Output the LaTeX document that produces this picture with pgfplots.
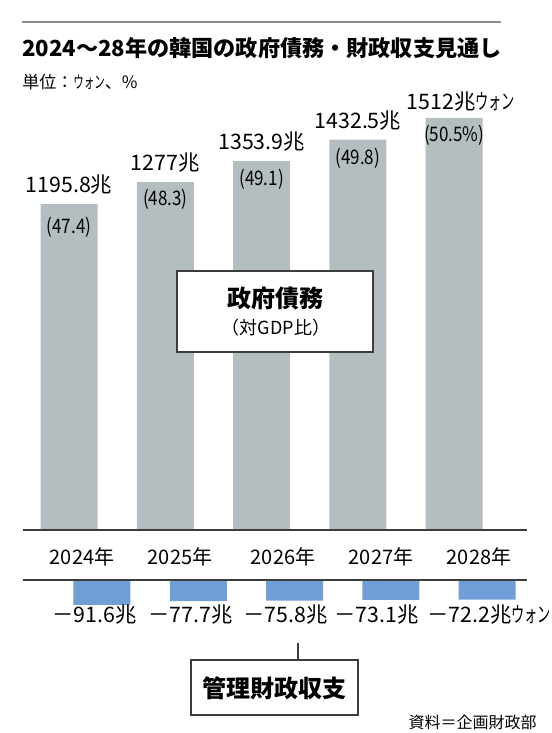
\documentclass[border=0pt]{standalone}
\usepackage{pgfplots}
\pgfplotsset{compat=1.18}
\usepackage{fontspec}
\setmainfont{Noto Sans CJK JP}
\newfontfamily\cond{Noto Sans CJK JP}[FakeStretch=0.85]
\newfontfamily\nkana{Noto Sans CJK JP}[FakeStretch=0.62]
\definecolor{barg}{RGB}{180,189,191}
\definecolor{barb}{RGB}{112,158,214}
\definecolor{linec}{RGB}{60,60,60}
\definecolor{topl}{RGB}{140,140,140}
\newcommand{\fs}[1]{\fontsize{#1}{#1}\selectfont}
\newcommand{\won}{{\nkana ウォン}}
\pgfplotstableread{
x y
0 1195.8
1 1277
2 1353.9
3 1432.5
4 1512
}\debt
\pgfplotstableread{
x y
0 -91.6
1 -77.7
2 -75.8
3 -73.1
4 -72.2
}\bal
\begin{document}
\begin{tikzpicture}
\begin{scope}[x=0.75pt,y=0.75pt]
\path (0,0) rectangle (550,733);
% title
\draw[topl, line width=1.5pt] (22,710.5) -- (501,710.5);
\node[anchor=west, inner sep=0pt] at (22,685) {\fs{16.6pt}\bfseries 2024～28年の韓国の政府債務・財政収支見通し};
\node[anchor=west, inner sep=0pt] at (22,651) {\fs{12.75pt}単位：\won、\%};
\end{scope}
% government debt
\begin{axis}[at={(17.25pt,152.25pt)}, anchor=south west, scale only axis,
  width=378pt, height=309pt, xmin=-0.478, xmax=4.756, ymin=0, ymax=1512,
  hide axis, clip=false, ybar, bar width=42.75pt]
\addplot[fill=barg, draw=none] table[x=x,y=y] {\debt};
\draw[linec, line width=1.1pt] (rel axis cs:0,0) -- (rel axis cs:1,0);
\node[anchor=south, inner sep=0pt] at (axis cs:0,1195.8) [yshift=7pt] {\fs{16pt}1195.8兆};
\node[anchor=south, inner sep=0pt] at (axis cs:1,1277) [yshift=7pt] {\fs{16pt}1277兆};
\node[anchor=south, inner sep=0pt] at (axis cs:2,1353.9) [yshift=7pt] {\fs{16pt}1353.9兆};
\node[anchor=south, inner sep=0pt] at (axis cs:3,1432.5) [yshift=7pt] {\fs{16pt}1432.5兆};
\node[anchor=south, inner sep=0pt] at (axis cs:4,1512) [yshift=5pt, xshift=5pt] {\fs{16pt}1512兆\won};
\node at (axis cs:0,1195.8) [yshift=-17pt] {\cond\fs{15pt}(47.4)};
\node at (axis cs:1,1277) [yshift=-13pt] {\cond\fs{15pt}(48.3)};
\node at (axis cs:2,1353.9) [yshift=-14pt] {\cond\fs{15pt}(49.1)};
\node at (axis cs:3,1432.5) [yshift=-14pt] {\cond\fs{15pt}(49.8)};
\node at (axis cs:4,1512) [yshift=-13pt] {\cond\fs{15pt}(50.5\%)};
\end{axis}
% balance
\begin{axis}[at={(17.25pt,114.75pt)}, anchor=north west, scale only axis,
  width=378pt, height=20.44pt, xmin=-0.820, xmax=4.414, ymin=-100, ymax=0,
  hide axis, clip=false, ybar, bar width=42.75pt]
\addplot[fill=barb, draw=none] table[x=x,y=y] {\bal};
\draw[linec, line width=1.1pt] (rel axis cs:0,1) -- (rel axis cs:1,1);
\end{axis}
\begin{scope}[x=0.75pt,y=0.75pt]
% years
\node at (82,176) {\fs{15pt}2024年};
\node at (180,176) {\fs{15pt}2025年};
\node at (283,176) {\fs{15pt}2026年};
\node at (381,176) {\fs{15pt}2027年};
\node at (479,176) {\fs{15pt}2028年};
\node[anchor=east, inner sep=0pt] at (137,118) {\fs{16pt}－91.6兆};
\node[anchor=east, inner sep=0pt] at (233,118) {\fs{16pt}－77.7兆};
\node[anchor=east, inner sep=0pt] at (328,118) {\fs{16pt}－75.8兆};
\node[anchor=east, inner sep=0pt] at (419,118) {\fs{16pt}－73.1兆};
\node[anchor=west, inner sep=0pt] at (427,118) {\fs{16pt}－72.2兆\won};
% boxes
\draw[linec, line width=1.2pt, fill=white] (177,462) rectangle (373,381);
\node at (275,435) {\fs{18pt}\bfseries 政府債務};
\node at (276,405) {\fs{13.5pt}（対GDP比）};
\draw[linec, line width=1.1pt] (298,90) -- (298,73);
\draw[linec, line width=1.2pt, fill=white] (191,73) rectangle (358,18);
\node at (274,45) {\fs{18pt}\bfseries 管理財政収支};
\node[anchor=east, inner sep=0pt] at (537,11) {\fs{12pt}資料＝企画財政部};
\end{scope}
\end{tikzpicture}
\end{document}
